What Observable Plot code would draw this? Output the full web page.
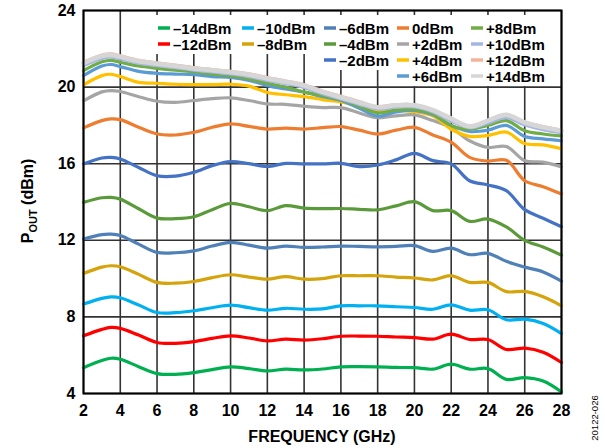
<!DOCTYPE html>
<html><head><meta charset="utf-8">
<script src="https://cdn.jsdelivr.net/npm/d3@7"></script>
<script src="https://cdn.jsdelivr.net/npm/@observablehq/plot@0.6"></script>
<style>
body{margin:0;background:#fff;}
#chart{width:605px;height:448px;}
svg text{font-family:"Liberation Sans",Arial,sans-serif;}
</style></head><body><div id="chart"></div>
<script>
// Frequency (GHz)
const freq = [2,3,3.5,4,5,6,7,8,9,10,11,12,13,14,15,16,17,18,19,20,21,22,23,24,25,26,27,28];
// POUT (dBm) per input power
const m14 = [5.35,5.72,5.84,5.79,5.40,5.04,5.00,5.09,5.25,5.39,5.30,5.18,5.27,5.23,5.28,5.39,5.40,5.39,5.36,5.35,5.27,5.53,5.27,5.30,4.74,4.83,4.65,4.08];
const m12 = [7.01,7.35,7.45,7.40,7.05,6.66,6.62,6.71,6.88,7.01,6.90,6.75,6.84,6.79,6.86,6.99,7.00,6.99,6.95,6.92,6.84,7.10,6.82,6.82,6.30,6.37,6.16,5.62];
const m10 = [8.67,8.97,9.05,9.00,8.62,8.23,8.22,8.32,8.48,8.61,8.48,8.35,8.45,8.40,8.42,8.58,8.58,8.58,8.53,8.49,8.40,8.63,8.35,8.37,7.85,7.88,7.66,7.13];
const m8  = [10.27,10.60,10.67,10.62,10.22,9.80,9.76,9.85,10.05,10.20,10.08,9.97,10.10,9.97,10.00,10.15,10.15,10.15,10.08,10.03,9.93,10.15,9.80,9.80,9.32,9.33,9.05,8.58];
const m6  = [12.07,12.30,12.32,12.25,11.80,11.37,11.35,11.45,11.70,11.89,11.75,11.59,11.70,11.63,11.65,11.70,11.68,11.66,11.68,11.72,11.42,11.59,11.25,11.32,10.90,10.60,10.35,9.87];
const m4  = [13.98,14.22,14.24,14.15,13.65,13.16,13.13,13.23,13.60,13.93,13.75,13.55,13.81,13.68,13.65,13.66,13.62,13.59,13.80,14.02,13.55,13.55,12.99,13.11,12.70,12.00,11.65,11.22];
const m2  = [15.99,16.30,16.33,16.25,15.80,15.37,15.35,15.55,15.90,16.11,16.00,15.86,16.02,15.99,15.99,16.02,15.85,15.93,16.20,16.54,16.16,15.99,15.11,14.89,14.59,13.60,13.15,12.71];
const p0  = [17.87,18.25,18.34,18.30,17.90,17.55,17.50,17.64,17.90,18.08,17.95,17.81,17.86,17.81,17.88,17.94,17.75,17.55,17.75,17.90,17.50,17.12,16.33,16.14,16.18,15.11,14.80,14.42];
const p2  = [19.28,19.75,19.82,19.77,19.50,19.26,19.20,19.30,19.40,19.44,19.30,19.12,19.10,19.00,18.93,18.93,18.65,18.40,18.50,18.55,18.25,17.88,17.20,16.85,16.90,16.16,16.08,15.83];
const p4  = [20.12,20.60,20.67,20.55,20.25,20.20,20.15,20.13,20.13,20.15,20.05,19.72,19.60,19.50,19.35,19.22,19.00,18.72,18.80,18.72,18.50,17.80,17.43,17.48,17.65,17.05,16.98,16.78];
const p6  = [20.60,21.10,21.18,21.07,20.82,20.72,20.68,20.65,20.55,20.50,20.35,20.08,19.90,19.73,19.50,19.30,18.90,18.48,18.70,18.78,18.55,18.00,17.68,17.75,18.00,17.42,17.30,17.20];
const p8  = [20.86,21.32,21.40,21.30,21.10,20.98,20.88,20.80,20.68,20.58,20.43,20.20,20.00,19.75,19.55,19.35,19.00,18.65,18.80,18.82,18.60,18.00,17.80,18.00,18.25,17.72,17.55,17.45];
const p10 = [21.12,21.50,21.56,21.47,21.25,21.12,21.01,20.89,20.79,20.69,20.55,20.35,20.18,19.97,19.66,19.38,19.10,18.85,18.95,18.96,18.70,18.22,17.88,18.12,18.40,18.02,17.78,17.62];
const p12 = [21.30,21.68,21.74,21.63,21.40,21.27,21.15,21.02,20.92,20.82,20.69,20.50,20.32,20.12,19.80,19.52,19.24,18.98,19.08,19.08,18.82,18.37,17.96,18.26,18.56,18.18,17.94,17.76];
const p14 = [21.25,21.62,21.68,21.58,21.35,21.22,21.10,20.97,20.88,20.78,20.65,20.45,20.28,20.08,19.75,19.47,19.20,18.95,19.05,19.05,18.80,18.35,17.95,18.25,18.55,18.15,17.90,17.72];

const seriesLabels = ["–14dBm","–12dBm","–10dBm","–8dBm","–6dBm","–4dBm","–2dBm","0dBm","+2dBm","+4dBm","+6dBm","+8dBm","+10dBm","+12dBm","+14dBm"];
const seriesValues = [m14,m12,m10,m8,m6,m4,m2,p0,p2,p4,p6,p8,p10,p12,p14];
const seriesColors = ["#00B050","#FF0000","#00B0F0","#D5A30C","#4F81B8","#5B9A3A","#4472C4","#ED7D31","#A5A5A5","#FFC000","#5B9BD5","#70AD47","#A6B6E2","#F4B49C","#D6D6D6"];

const xTicks = [2,4,6,8,10,12,14,16,18,20,22,24,26,28];
const yTicks = [4,8,12,16,20,24];

const rows = [];
seriesLabels.forEach((s, i) => freq.forEach((f, j) => rows.push({s, f, v: seriesValues[i][j]})));
const last = seriesLabels[seriesLabels.length - 1];

const chart = Plot.plot({
  width: 605, height: 448,
  marginLeft: 83, marginRight: 44, marginTop: 10, marginBottom: 55,
  style: {fontFamily: "Liberation Sans, Arial, sans-serif", fontSize: "16px", fontWeight: "bold", background: "#fff", color: "#000"},
  x: {domain: [2, 28], label: null},
  y: {domain: [4, 24], label: null},
  color: {domain: seriesLabels, range: seriesColors},
  marks: [
    Plot.gridX(xTicks, {stroke: "#333", strokeOpacity: 1, strokeWidth: 1.6}),
    Plot.gridY(yTicks, {stroke: "#333", strokeOpacity: 1, strokeWidth: 1.6}),
    Plot.axisX(xTicks, {tickSize: 0, tickPadding: 11, label: null, fontSize: 16}),
    Plot.axisY(yTicks, {tickSize: 0, tickPadding: 8, label: null, fontSize: 16}),
    Plot.line(rows.filter(d => d.s !== last), {x: "f", y: "v", z: "s", stroke: "s", curve: "catmull-rom", strokeWidth: 3.2}),
    Plot.line(rows.filter(d => d.s === last), {x: "f", y: "v", z: "s", stroke: "s", curve: "catmull-rom", strokeWidth: 4.6}),
    Plot.frame({stroke: "#000", strokeWidth: 2})
  ]
});
document.getElementById("chart").appendChild(chart);

const svg = d3.select(chart);
// axis titles
svg.append("text").attr("x", 322).attr("y", 442).attr("text-anchor", "middle")
  .style("font-size", "16px").style("font-weight", "bold").text("FREQUENCY (GHz)");
const yt = svg.append("text").attr("transform", "translate(33,201) rotate(-90)").attr("text-anchor", "middle")
  .style("font-size", "16px").style("font-weight", "bold");
yt.append("tspan").text("P");
yt.append("tspan").attr("dy", 4).style("font-size", "11px").text("OUT");
yt.append("tspan").attr("dy", -4).text(" (dBm)");
svg.append("text").attr("transform", "translate(598,418) rotate(-90)").attr("text-anchor", "middle")
  .style("font-size", "9.5px").style("font-weight", "normal").text("20122-026");

// legend
const legendPos = [[0,0],[0,1],[1,0],[1,1],[2,0],[2,1],[2,2],[3,0],[3,1],[3,2],[3,3],[4,0],[4,1],[4,2],[4,3]];
const colX = [158, 242, 324, 397, 471];
const colBg = [[155,240],[240,321],[321,395],[395,469],[469,557]];
const colRows = [2,2,3,4,4];
const lg = svg.append("g");
colBg.forEach(([a,b], c) => lg.append("rect").attr("x", a).attr("y", 15).attr("width", b - a)
  .attr("height", 28 + 16 * (colRows[c] - 1) + 10 - 15).style("fill", "#fff").style("stroke", "none"));
seriesLabels.forEach((s, i) => {
  const [c, r] = legendPos[i];
  const cy = 28 + 16 * r;
  lg.append("line").attr("x1", colX[c]).attr("x2", colX[c] + 12).attr("y1", cy).attr("y2", cy)
    .style("stroke", seriesColors[i]).style("stroke-width", 3.5);
  lg.append("text").attr("x", colX[c] + 15).attr("y", cy + 5.5).attr("text-anchor", "start")
    .style("text-anchor", "start").style("font-size", "15px").style("font-weight", "bold").text(s);
});
</script></body></html>
